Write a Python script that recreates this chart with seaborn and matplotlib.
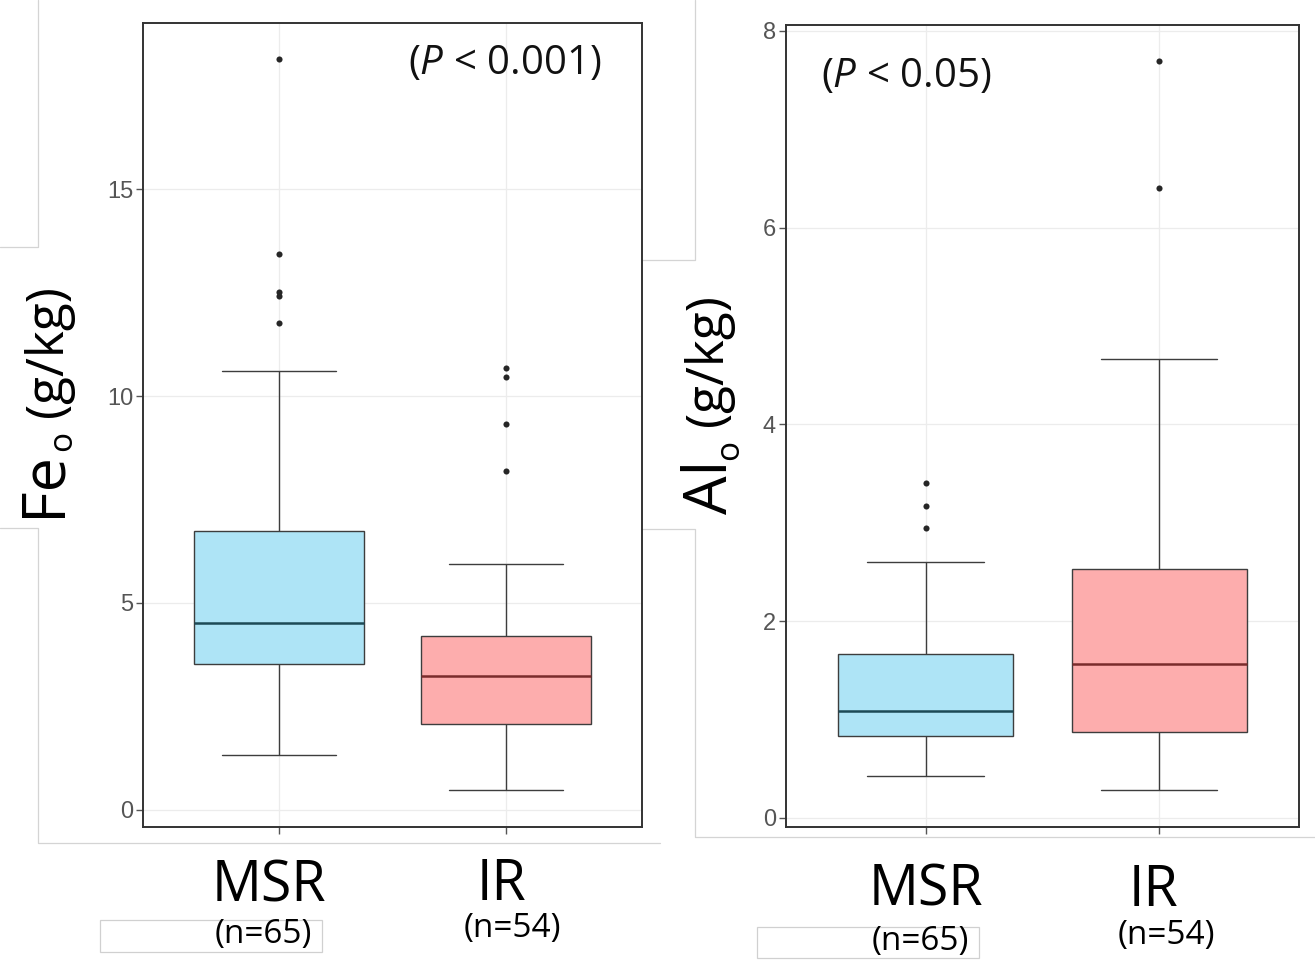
import numpy as np
import pandas as pd
import matplotlib
matplotlib.use("Agg")
import matplotlib.pyplot as plt
from matplotlib.lines import Line2D
from matplotlib.patches import Rectangle
import seaborn as sns

# ---- data (g/kg) ----
groups = ["MSR", "IR"]
group_sizes = ["(n=65)", "(n=54)"]
# five-number summaries: lower whisker, Q1, median, Q3, upper whisker
fe_msr = [1.31, 3.51, 4.52, 6.73, 10.60]
fe_ir = [0.47, 2.06, 3.24, 4.19, 5.95]
fe_msr_outliers = [11.77, 12.42, 12.52, 13.44, 18.15]
fe_ir_outliers = [8.20, 9.33, 10.46, 10.69]
al_msr = [0.43, 0.83, 1.09, 1.665, 2.60]
al_ir = [0.28, 0.87, 1.56, 2.53, 4.66]
al_msr_outliers = [2.95, 3.17, 3.40]
al_ir_outliers = [6.40, 7.69]
fe_ticks = [0, 5, 10, 15]
al_ticks = [0, 2, 4, 6, 8]
p_labels = [r"($\mathit{P}$ < 0.001)", r"($\mathit{P}$ < 0.05)"]

fill_colors = {"MSR": "#AEE4F6", "IR": "#FDADAD"}
median_colors = {"MSR": "#1D4A56", "IR": "#7A2C2C"}

W, H = 1315, 965
sns.set_theme(style="white")
plt.rcParams["font.family"] = ["Liberation Sans", "DejaVu Sans"]
plt.rcParams["mathtext.fontset"] = "custom"
plt.rcParams["mathtext.rm"] = "Open Sans"
plt.rcParams["mathtext.it"] = "Open Sans:italic"

fig = plt.figure(figsize=(W / 100, H / 100), dpi=100)
fig.patch.set_facecolor("white")


def fx(x):
    return x / W


def fy(y):
    return 1 - y / H


def long_table(msr, ir):
    return pd.DataFrame({
        "group": ["MSR"] * len(msr) + ["IR"] * len(ir),
        "value": list(msr) + list(ir),
    })


# faint frame lines of the composed panels
frame_lines = [
    [(38, 0), (38, 247), (0, 247)],
    [(0, 528), (38, 528), (38, 843), (660, 843)],
    [(695, 0), (695, 260), (642, 260)],
    [(642, 529), (695, 529), (695, 837), (1315, 837)],
]
for pts in frame_lines:
    xs = [fx(p[0]) for p in pts]
    ys = [fy(p[1]) for p in pts]
    fig.add_artist(Line2D(xs, ys, color="#d4d4d4", lw=0.9, zorder=0))
for (x0, y0, w, h) in [(100, 920, 222, 32), (757, 927, 222, 31)]:
    fig.add_artist(Rectangle((fx(x0), fy(y0 + h)), w / W, h / H,
                             facecolor="white", edgecolor="#d0d0d0", lw=0.9, zorder=0))

panels = [
    dict(rect=(143, 22.7, 642, 826.7), summary=(fe_msr, fe_ir),
         outliers=(fe_msr_outliers, fe_ir_outliers), ticks=fe_ticks,
         ptext=p_labels[0], ppos=(505, 64)),
    dict(rect=(785.7, 25, 1299, 826.7), summary=(al_msr, al_ir),
         outliers=(al_msr_outliers, al_ir_outliers), ticks=al_ticks,
         ptext=p_labels[1], ppos=(906, 77)),
]

for pan in panels:
    x0, y0, x1, y1 = pan["rect"]
    ax = fig.add_axes([fx(x0), fy(y1), (x1 - x0) / W, (y1 - y0) / H])
    box_df = long_table(*pan["summary"])
    out_df = long_table(*pan["outliers"])

    sns.boxplot(data=box_df, x="group", y="value", hue="group", order=groups,
                hue_order=groups, palette=fill_colors, saturation=1,
                whis=(0, 100), width=0.75, linecolor="#3d3d3d", linewidth=1.0,
                capwidths=0.5, legend=False, ax=ax)
    for cont, g in zip(ax.containers, groups):
        for med in cont.medians:
            med.set_color(median_colors[g])
            med.set_linewidth(1.8)
    sns.stripplot(data=out_df, x="group", y="value", order=groups, jitter=False,
                  color="#262626", size=4.4, linewidth=0, ax=ax, zorder=4)

    allv = np.concatenate([box_df["value"].values, out_df["value"].values])
    lo, hi = allv.min(), allv.max()
    pad = 0.05 * (hi - lo)
    ax.set_ylim(lo - pad, hi + pad)
    ax.set_xlim(-0.6, 1.6)
    ax.set_yticks(pan["ticks"])
    ax.set_xticks([0, 1])
    ax.set_xlabel("")
    ax.set_ylabel("")
    ax.grid(True, color="#ececec", lw=0.9)
    ax.set_axisbelow(True)
    ax.set_facecolor("white")
    for sp in ax.spines.values():
        sp.set_visible(True)
        sp.set_color("#333333")
        sp.set_linewidth(1.4)
    ax.tick_params(axis="y", left=True, length=5, width=1.0, color="#555555",
                   labelcolor="#555555", labelsize=17, pad=2)
    ax.tick_params(axis="x", bottom=True, length=5, width=1.0, color="#555555",
                   labelbottom=False)
    for lab in ax.get_yticklabels():
        lab.set_fontfamily("Liberation Sans")

    fig.text(fx(pan["ppos"][0]), fy(pan["ppos"][1]), pan["ptext"],
             ha="center", va="center", fontsize=29, family="Open Sans", color="#111111")

# category labels under each panel
cat_text = [
    (269, 902, "MSR", 40), (501, 900, "IR", 40),
    (263, 943, group_sizes[0], 24), (512, 937, group_sizes[1], 24),
    (926, 906, "MSR", 40), (1153, 906, "IR", 40),
    (920, 950, group_sizes[0], 24), (1166, 944, group_sizes[1], 24),
]
for cx, by, txt, fs in cat_text:
    fig.text(fx(cx), fy(by), txt, ha="center", va="baseline", fontsize=fs,
             family="Open Sans", color="#000000", zorder=3)

# rotated axis titles built from pieces: symbol, subscript, unit
renderer = fig.canvas.get_renderer()


def axis_title(pieces, y_start):
    y = y_start
    for text, size, base_x, gap in pieces:
        t = fig.text(fx(base_x), fy(y), text, rotation=90, rotation_mode="anchor",
                     ha="left", va="baseline", fontsize=size, family="Open Sans",
                     color="#000000")
        bb = t.get_window_extent(renderer)
        y = H - bb.y1 - gap


axis_title([("Fe", 44, 59, 0), ("o", 24, 71, 14), ("(g/kg)", 37, 62, 0)], 517)
axis_title([("Al", 44, 727, 0), ("o", 24, 738, 14), ("(g/kg)", 37, 722, 0)], 514)

fig.savefig("out.png", dpi=100, facecolor="white")
